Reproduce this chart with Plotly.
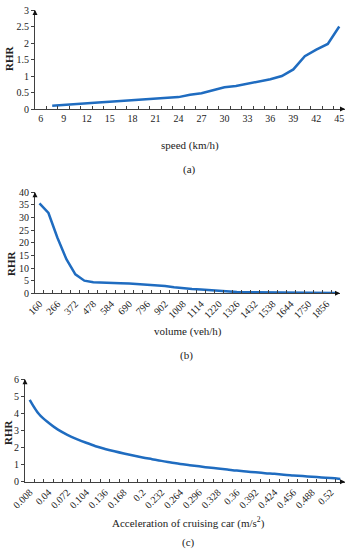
import plotly.graph_objects as go

# ---- data ----
speed = [7.5, 9, 10.5, 12, 13.5, 15, 16.5, 18, 19.5, 21, 22.5, 24, 25.5, 27,
         28.5, 30, 31.5, 33, 34.5, 36, 37.5, 39, 40.5, 42, 43.5, 45]
rhr_speed = [0.1, 0.13, 0.16, 0.18, 0.2, 0.22, 0.24, 0.26, 0.28, 0.3, 0.32, 0.36,
             0.43, 0.48, 0.57, 0.66, 0.7, 0.77, 0.83, 0.9, 1.0, 1.2, 1.6, 1.8, 1.97, 2.5]
speed_ticks = [6, 9, 12, 15, 18, 21, 24, 27, 30, 33, 36, 39, 42, 45]

volume = [160 + 53 * i for i in range(34)]
rhr_volume = [35.6, 31.8, 22, 13.5, 7.5, 5.0, 4.4, 4.2, 4.1, 4.0, 3.9, 3.7, 3.4, 3.2,
              2.9, 2.4, 2.0, 1.7, 1.5, 1.2, 0.9, 0.6, 0.5, 0.45, 0.4, 0.35, 0.3, 0.25,
              0.2, 0.18, 0.15, 0.12, 0.1, 0.08]
volume_ticks = [160, 266, 372, 478, 584, 690, 796, 902, 1008, 1114, 1220, 1326,
                1432, 1538, 1644, 1750, 1856]

accel = [round(0.008 + 0.016 * i, 3) for i in range(34)]
rhr_accel = [4.8, 3.95, 3.45, 3.05, 2.75, 2.5, 2.28, 2.08, 1.92, 1.78, 1.65, 1.53,
             1.42, 1.32, 1.22, 1.13, 1.04, 0.97, 0.9, 0.83, 0.77, 0.71, 0.65, 0.6,
             0.55, 0.5, 0.46, 0.41, 0.37, 0.33, 0.29, 0.25, 0.21, 0.16]
accel_ticks = [0.008, 0.04, 0.072, 0.104, 0.136, 0.168, 0.2, 0.232, 0.264, 0.296,
               0.328, 0.36, 0.392, 0.424, 0.456, 0.488, 0.52]

# ---- style ----
W, H = 351, 550
FONT = "Liberation Serif"
LINE = "#1f6cc0"
AX = "#404040"


def bounds(first, cats):
    step = cats[1] - cats[0]
    allc = ([first] if first < cats[0] else []) + list(cats)
    return [c - step / 2 for c in allc] + [allc[-1] + step / 2]


fig = go.Figure()
fig.add_trace(go.Scatter(x=speed, y=rhr_speed, mode="lines", xaxis="x", yaxis="y",
                         line=dict(color=LINE, width=2.5)))
fig.add_trace(go.Scatter(x=volume, y=rhr_volume, mode="lines", xaxis="x2", yaxis="y2",
                         line=dict(color=LINE, width=2.5)))
fig.add_trace(go.Scatter(x=accel, y=rhr_accel, mode="lines", xaxis="x3", yaxis="y3",
                         line=dict(color=LINE, width=2.5, shape="spline")))


def xax(domain, cats, ticks, angle, fmt=None):
    b = bounds(ticks[0], cats)
    d = dict(domain=domain, range=[b[0], b[-1]], tickmode="array", tickvals=ticks,
             ticktext=[fmt(t) if fmt else str(t) for t in ticks], automargin=False,
             ticks="", showline=True, linecolor=AX, linewidth=1, showgrid=False,
             zeroline=False, tickangle=angle, tickfont=dict(family=FONT, size=10, color="#222"),
             minor=dict(tickmode="array", tickvals=b[1:-1], ticks="inside", ticklen=3,
                        tickcolor=AX, showgrid=False))
    return d


def yax(domain, rng, dtick, anchor):
    return dict(domain=domain, range=rng, dtick=dtick, tick0=0, showline=True, linecolor=AX,
                linewidth=1, showgrid=False, zeroline=False, ticks="outside", ticklen=3,
                tickcolor=AX, anchor=anchor, automargin=False,
                tickfont=dict(family=FONT, size=10, color="#222"))


fig.update_layout(
    width=W, height=H, margin=dict(l=0, r=0, t=0, b=0),
    paper_bgcolor="white", plot_bgcolor="white", showlegend=False,
    xaxis=xax([35 / W, 345 / W], speed, speed_ticks, 0) | dict(anchor="y"),
    yaxis=yax([1 - 109 / H, 1 - 10 / H], [0, 3], 0.5, "x"),
    xaxis2=xax([35 / W, 340 / W], volume, volume_ticks, -45) | dict(anchor="y2"),
    yaxis2=yax([1 - 293.3 / H, 1 - 192.3 / H], [0, 40], 5, "x2"),
    xaxis3=xax([25 / W, 345 / W], accel, accel_ticks, -45, lambda t: f"{t:g}") | dict(anchor="y3"),
    yaxis3=yax([1 - 481.7 / H, 1 - 379.3 / H], [0, 6], 1, "x3"),
)

ann = []


def text(x, y, s, size=11, angle=0):
    ann.append(dict(x=x / W, y=1 - y / H, xref="paper", yref="paper", text=s,
                    showarrow=False, textangle=angle,
                    font=dict(family=FONT, size=size, color="#222"),
                    xanchor="center", yanchor="middle"))


text(190, 145, "speed (km/h)")
text(189, 169, "(a)")
text(188, 331, "volume (veh/h)")
text(187, 355, "(b)")
text(188, 522, "Acceleration of cruising car (m/s<sup>2</sup>)")
text(188, 542, "(c)")
text(9, 58, "<b>RHR</b>", angle=-90)
text(11, 263, "<b>RHR</b>", angle=-90)
text(8, 432, "<b>RHR</b>", angle=-90)

# axis-end arrowheads
for xa, ya in [("x", "y"), ("x2", "y2"), ("x3", "y3")]:
    ann.append(dict(x=1, y=0, xref=f"{xa} domain", yref=f"{ya} domain", ax=-6, ay=0,
                    showarrow=True, arrowhead=2, arrowsize=1, arrowwidth=1,
                    arrowcolor="#111", text=""))
    ann.append(dict(x=0, y=1, xref=f"{xa} domain", yref=f"{ya} domain", ax=0, ay=6,
                    showarrow=True, arrowhead=2, arrowsize=1, arrowwidth=1,
                    arrowcolor="#111", text=""))

fig.update_layout(annotations=ann)
fig.write_html("out.html", config={"displayModeBar": False},
               post_script="document.body.style.margin='0';")
